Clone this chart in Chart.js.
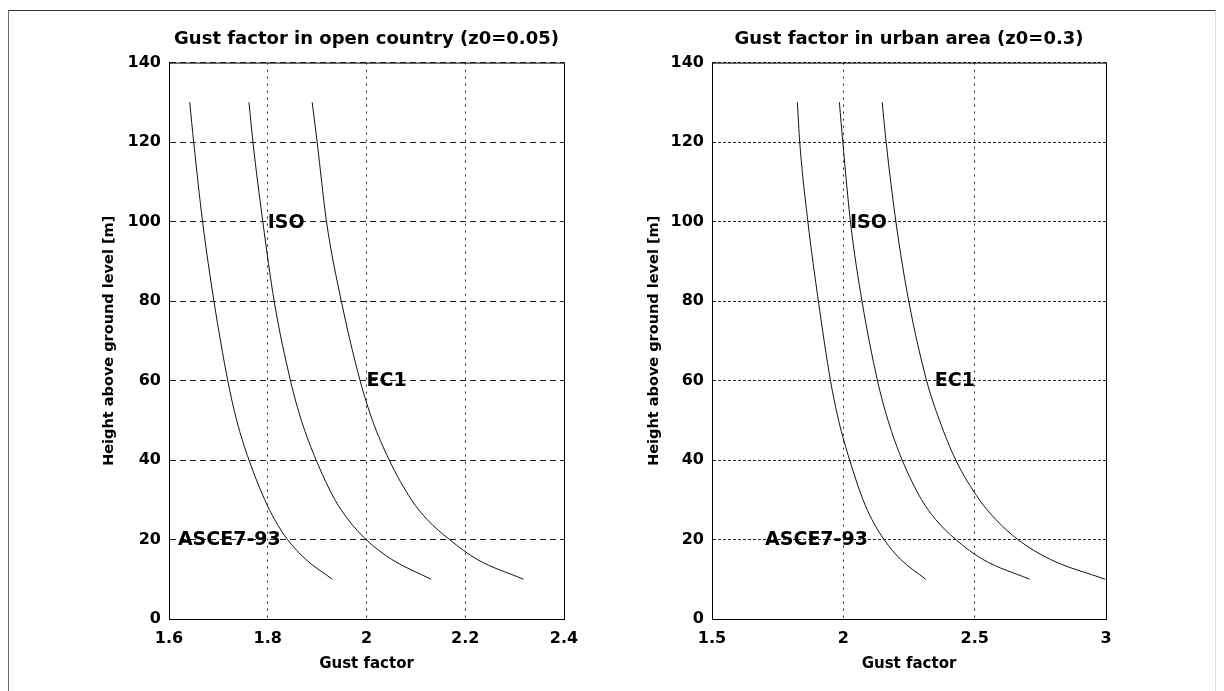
<!DOCTYPE html>
<html>
<head>
<meta charset="utf-8">
<script src="https://cdn.jsdelivr.net/npm/chart.js@4.4.1/dist/chart.umd.min.js"></script>
<style>
  body { margin: 0; background: #fff; width: 1224px; height: 691px; overflow: hidden; position: relative; }
  .frame { position: absolute; left: 8px; top: 10px; width: 1206px; height: 700px;
           border-top: 1px solid #333; border-left: 1px solid #666; border-right: 1px solid #ddd; }
  canvas { position: absolute; top: 0; }
</style>
</head>
<body>
<div class="frame"></div>
<canvas id="openChart" width="612" height="691" style="left:0"></canvas>
<canvas id="urbanChart" width="624" height="691" style="left:600px"></canvas>
<script>
// Data (height in m, gust factor)

const heights = [130, 120, 100, 80, 60, 50, 40, 30, 25, 20, 15, 10];

const openAsce = [1.642, 1.650, 1.668, 1.691, 1.719, 1.737, 1.762, 1.794, 1.814, 1.840, 1.877, 1.931];
const openIso  = [1.762, 1.770, 1.790, 1.813, 1.846, 1.868, 1.898, 1.936, 1.963, 1.999, 2.051, 2.131];
const openEc1  = [1.890, 1.900, 1.919, 1.949, 1.987, 2.012, 2.046, 2.091, 2.123, 2.168, 2.224, 2.318];

const urbanAsce = [1.825, 1.834, 1.865, 1.905, 1.951, 1.982, 2.024, 2.075, 2.109, 2.155, 2.218, 2.314];
const urbanIso  = [1.985, 1.998, 2.027, 2.071, 2.130, 2.170, 2.224, 2.298, 2.352, 2.428, 2.531, 2.709];
const urbanEc1  = [2.148, 2.163, 2.200, 2.249, 2.317, 2.366, 2.428, 2.518, 2.581, 2.664, 2.788, 2.997];

const yTicks = [0, 20, 40, 60, 80, 100, 120, 140];
const openXTicks = [1.6, 1.8, 2, 2.2, 2.4];
const urbanXTicks = [1.5, 2, 2.5, 3];

const curveNames = ['ASCE7-93', 'ISO', 'EC1'];
const labelHeights = [20, 100, 60];
const openLabelX = [1.618, 1.8, 2.0];
const urbanLabelX = [1.702, 2.025, 2.348];



// Plugins: axes box and curve labels

const boxPlugin = {
  id: 'axesBox',
  afterDatasetsDraw(chart) {
    const { ctx, chartArea: a } = chart;
    ctx.save();
    ctx.strokeStyle = '#000';
    ctx.lineWidth = 1;
    ctx.strokeRect(a.left + 0.5, a.top + 0.5, a.right - a.left, a.bottom - a.top);
    ctx.restore();
  }
};

const labelPlugin = {
  id: 'curveLabels',
  afterDatasetsDraw(chart, args, opts) {
    const { ctx } = chart;
    const xs = chart.scales.x, ys = chart.scales.y;
    ctx.save();
    ctx.font = 'bold 19px "DejaVu Sans"';
    ctx.fillStyle = '#000';
    ctx.textAlign = 'left';
    ctx.textBaseline = 'middle';
    opts.names.forEach((name, i) => {
      ctx.fillText(name, xs.getPixelForValue(opts.xs[i]), ys.getPixelForValue(opts.ys[i]) + 1);
    });
    ctx.restore();
  }
};



function series(xs) {
  return xs.map((x, i) => ({ x: x, y: heights[i] }));
}

function makeChart(id, cfg) {
  const lineStyle = {
    showLine: true,
    borderColor: '#111',
    borderWidth: 1,
    pointRadius: 0,
    cubicInterpolationMode: 'monotone'
  };
  return new Chart(document.getElementById(id), {
    type: 'scatter',
    data: {
      datasets: cfg.curves.map((c, i) => Object.assign({ label: curveNames[i], data: series(c) }, lineStyle))
    },
    options: {
      responsive: false,
      animation: false,
      devicePixelRatio: 1,
      layout: { padding: { left: 0, right: cfg.padRight, top: 0, bottom: 0 } },
      plugins: {
        legend: { display: false },
        tooltip: { enabled: false },
        title: {
          display: true,
          text: cfg.title,
          fullSize: false,
          color: '#000',
          font: { family: 'DejaVu Sans', size: 18, weight: 'bold', lineHeight: 1.2 },
          padding: { top: 29, bottom: 12 }
        },
        curveLabels: { names: curveNames, xs: cfg.labelX, ys: labelHeights }
      },
      scales: {
        x: {
          type: 'linear',
          min: cfg.xTicks[0],
          max: cfg.xTicks[cfg.xTicks.length - 1],
          afterBuildTicks: (axis) => { axis.ticks = cfg.xTicks.map(v => ({ value: v })); },
          afterFit: (s) => { s.height = 72; },
          ticks: {
            color: '#000',
            padding: 10,
            font: { family: 'DejaVu Sans', size: 16, weight: 'bold' },
            callback: (v) => String(Number(v.toFixed(2)))
          },
          grid: { color: '#222', lineWidth: 1, drawTicks: false },
          border: { display: true, color: '#000', width: 1, dash: [2, 5] },
          title: {
            display: true,
            text: 'Gust factor',
            color: '#000',
            font: { family: 'DejaVu Sans', size: 15, weight: 'bold', lineHeight: 1.2 },
            padding: { top: 0, bottom: 18 }
          }
        },
        y: {
          type: 'linear',
          min: 0,
          max: 140,
          afterBuildTicks: (axis) => { axis.ticks = yTicks.map(v => ({ value: v })); },
          afterFit: (s) => { s.width = cfg.yWidth; },
          ticks: {
            color: '#000',
            padding: 8,
            font: { family: 'DejaVu Sans', size: 16, weight: 'bold' }
          },
          grid: { color: '#222', lineWidth: 1, drawTicks: false },
          border: { display: true, color: '#000', width: 1, dash: cfg.yDash },
          title: {
            display: true,
            text: 'Height above ground level [m]',
            color: '#000',
            font: { family: 'DejaVu Sans', size: 14.5, weight: 'bold', lineHeight: 1.2 },
            padding: { top: cfg.yTitlePad, bottom: 0 }
          }
        }
      }
    },
    plugins: [boxPlugin, labelPlugin]
  });
}



// Open country (left)

const openChart = makeChart('openChart', {
  title: 'Gust factor in open country (z0=0.05)',
  curves: [openAsce, openIso, openEc1],
  xTicks: openXTicks,
  labelX: openLabelX,
  padRight: 48,
  yWidth: 169,
  yTitlePad: 101,
  yDash: [6, 4]
});



// Urban area (right)

const urbanChart = makeChart('urbanChart', {
  title: 'Gust factor in urban area (z0=0.3)',
  curves: [urbanAsce, urbanIso, urbanEc1],
  xTicks: urbanXTicks,
  labelX: urbanLabelX,
  padRight: 118,
  yWidth: 112,
  yTitlePad: 46,
  yDash: [3, 2]
});
</script>
</body>
</html>
